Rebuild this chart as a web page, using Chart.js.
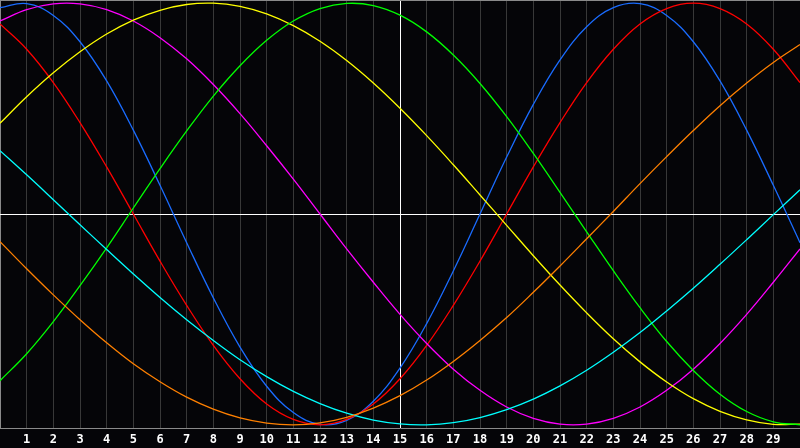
<!DOCTYPE html>
<html>
<head>
<meta charset="utf-8">
<script src="https://cdn.jsdelivr.net/npm/chart.js@4/dist/chart.umd.min.js"></script>
<style>
    html, body { margin: 0; padding: 0; background: #050508; }
    #wrap { width: 800px; height: 448px; }
</style>
</head>
<body>
<div id="wrap"><canvas id="waveChart"></canvas></div>
<script>
// x positions (0 and 30 sit on the edges and carry no label)
const xValues = [0, 1, 2, 3, 4, 5, 6, 7, 8, 9, 10, 11, 12, 13, 14, 15, 16, 17, 18, 19, 20, 21, 22, 23, 24, 25, 26, 27, 28, 29, 30];

const redSeries     = [88.8, 77.0, 61.4, 42.7, 22.0, 0, -22.0, -42.7, -61.4, -77.0, -88.8, -96.0, -98.5, -96.0, -88.8, -77.0, -61.4, -42.7, -22.0, 0, 22.0, 42.7, 61.4, 77.0, 88.8, 96.0, 98.5, 96.0, 88.8, 77.0, 61.4];
const blueSeries    = [96.4, 98.3, 92.8, 80.5, 62.2, 39.2, 13.4, -13.4, -39.2, -62.2, -80.5, -92.8, -98.3, -96.4, -87.5, -72.0, -51.2, -26.6, 0, 26.6, 51.2, 72.0, 87.5, 96.4, 98.3, 92.8, 80.5, 62.2, 39.2, 13.4, -13.4];
const magentaSeries = [90.2, 95.5, 98.2, 98.2, 95.5, 90.2, 82.4, 72.5, 60.5, 46.9, 31.9, 16.3, 0, -16.3, -31.9, -46.9, -60.5, -72.5, -82.4, -90.2, -95.5, -98.2, -98.2, -95.5, -90.2, -82.4, -72.5, -60.5, -46.9, -31.9, -16.3];
const yellowSeries  = [42.4, 54.8, 66.0, 75.8, 84.1, 90.6, 95.2, 97.9, 98.5, 97.0, 93.5, 88.0, 80.7, 71.7, 61.2, 49.4, 36.6, 23.0, 8.9, -5.3, -19.5, -33.2, -46.2, -58.3, -69.1, -78.5, -86.3, -92.2, -96.2, -98.3, -98.2];
const greenSeries   = [-77.9, -65.3, -50.3, -33.5, -15.8, 2.8, 21.2, 38.8, 55.1, 69.3, 81.2, 90.2, 96.0, 98.4, 97.4, 92.9, 85.1, 74.3, 61.0, 45.5, 28.3, 10.1, -8.3, -26.5, -43.8, -59.6, -73.1, -84.2, -92.3, -97.1, -98.5];
const cyanSeries    = [29.6, 18.3, 6.7, -5.0, -16.6, -28.0, -39.0, -49.4, -59.1, -68.1, -76.0, -82.9, -88.6, -93.1, -96.3, -98.1, -98.5, -97.5, -95.1, -91.4, -86.5, -80.3, -73.0, -64.6, -55.4, -45.3, -34.7, -23.5, -12.0, -0.3, 11.3];
const orangeSeries  = [-12.9, -25.6, -37.8, -49.4, -60.2, -70.0, -78.4, -85.6, -91.2, -95.3, -97.7, -98.5, -97.6, -95.0, -90.7, -84.9, -77.6, -68.9, -59.1, -48.4, -36.6, -24.3, -11.6, 1.2, 14.2, 26.8, 39.0, 50.6, 61.2, 70.8, 79.2];

document.addEventListener('DOMContentLoaded', function() {
    const canvas = document.getElementById('waveChart');

    function wave(values, color) {
        return {
            data: values.map((v, i) => ({ x: xValues[i], y: v })),
            borderColor: color,
            borderWidth: 1.3,
            pointRadius: 0,
            tension: 0.4,
            fill: false
        };
    }

    new Chart(canvas.getContext('2d'), {
        type: 'line',
        data: {
            datasets: [
                wave(orangeSeries, '#ff8000'),
                wave(cyanSeries, '#00ffff'),
                wave(greenSeries, '#00ff00'),
                wave(yellowSeries, '#ffff00'),
                wave(magentaSeries, '#ff00ff'),
                wave(redSeries, '#ff0000'),
                wave(blueSeries, '#1a6cff')
            ]
        },
        options: {
            responsive: true,
            maintainAspectRatio: false,
            animation: false,
            layout: { padding: 0 },
            plugins: {
                legend: { display: false },
                tooltip: { enabled: false }
            },
            scales: {
                x: {
                    type: 'linear',
                    min: 0,
                    max: 30,
                    afterFit: function(scale) {
                        scale.height = 20;
                        scale.paddingLeft = 0;
                        scale.paddingRight = 0;
                    },
                    border: { color: '#8a8a8a', width: 1 },
                    grid: {
                        drawTicks: false,
                        lineWidth: 1,
                        color: function(ctx) {
                            if (ctx.tick.value === 15) return '#ffffff';
                            if (ctx.tick.value === 0) return '#8a8a8a';
                            return '#383838';
                        }
                    },
                    ticks: {
                        stepSize: 1,
                        color: '#ffffff',
                        padding: 5,
                        maxRotation: 0,
                        autoSkip: false,
                        font: { family: 'DejaVu Sans Mono', weight: 'bold', size: 12 },
                        callback: function(value) {
                            return (value === 0 || value === 30) ? '' : value;
                        }
                    }
                },
                y: {
                    min: -100,
                    max: 100,
                    afterFit: function(scale) {
                        scale.width = 0;
                        scale.paddingTop = 0;
                        scale.paddingBottom = 0;
                    },
                    border: { display: false },
                    grid: {
                        drawTicks: false,
                        color: function(ctx) {
                            if (ctx.tick.value === 0) return '#ffffff';
                            if (ctx.tick.value === 100) return '#8a8a8a';
                            return 'rgba(0,0,0,0)';
                        }
                    },
                    ticks: { display: false, stepSize: 100 }
                }
            }
        }
    });
});
</script>
</body>
</html>
